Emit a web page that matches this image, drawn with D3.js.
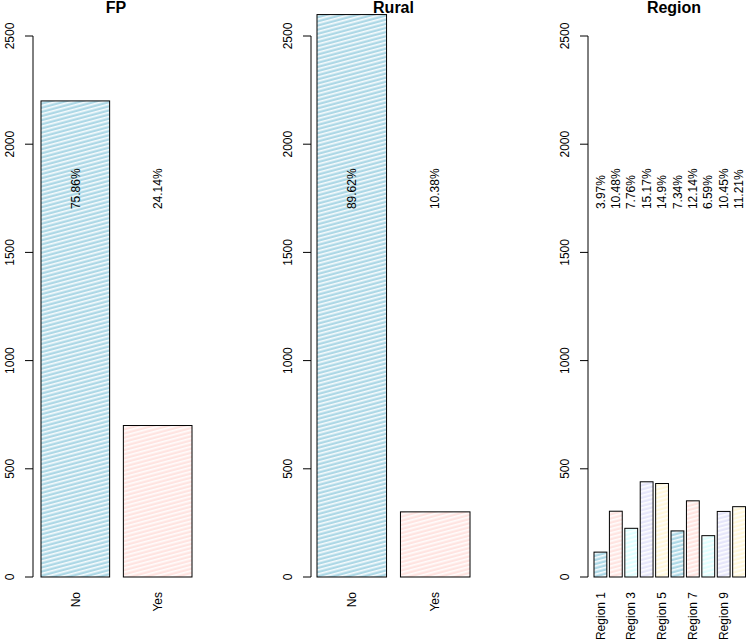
<!DOCTYPE html>
<html><head><meta charset="utf-8">
<script src="https://cdn.jsdelivr.net/npm/d3@7"></script>
<style>body{margin:0;background:#fff} svg{display:block} text{font-family:"Liberation Sans",Arial,sans-serif;fill:#000}</style>
</head><body><svg id="c" width="750" height="644"></svg>
<script>
const panelTitles = ["FP", "Rural", "Region"];
const fpCategories = ["No", "Yes"];
const fpCounts = [2200, 700];
const fpPercents = ["75.86%", "24.14%"];
const ruralCategories = ["No", "Yes"];
const ruralCounts = [2599, 301];
const ruralPercents = ["89.62%", "10.38%"];
const regionCategories = ["Region 1","Region 2","Region 3","Region 4","Region 5","Region 6","Region 7","Region 8","Region 9","Region 10"];
const regionCounts = [115, 304, 225, 440, 432, 213, 352, 191, 303, 325];
const regionPercents = ["3.97%","10.48%","7.76%","15.17%","14.9%","7.34%","12.14%","6.59%","10.45%","11.21%"];
const regionTickLabels = ["Region 1","Region 3","Region 5","Region 7","Region 9"];
const yTicks = [0, 500, 1000, 1500, 2000, 2500];
const barColors = ["lightblue", "mistyrose", "lightcyan", "lavender", "cornsilk"];
const percentLabelAt = 1700;

const svg = d3.select("#c");
const defs = svg.append("defs");
barColors.forEach((c, i) => {
  const p = defs.append("pattern").attr("id", "pat" + i)
    .attr("patternUnits", "userSpaceOnUse").attr("width", 12).attr("height", 4)
    .attr("patternTransform", "rotate(-15)");
  p.append("rect").attr("width", 12).attr("height", 4).attr("fill", c);
  p.append("line").attr("x1", 0).attr("x2", 12).attr("y1", 0.8).attr("y2", 0.8)
    .attr("stroke", "#fff").attr("stroke-width", 1.6).attr("stroke-opacity", 0.9);
});

const y = d3.scaleLinear().domain([0, 2500]).range([577, 36]);

const panels = [
  {title: panelTitles[0], cats: fpCategories, vals: fpCounts, pcts: fpPercents, ticks: fpCategories, axisX: 33, range: [41, 192], titleX: 116},
  {title: panelTitles[1], cats: ruralCategories, vals: ruralCounts, pcts: ruralPercents, ticks: ruralCategories, axisX: 311, range: [317, 470], titleX: 393.5},
  {title: panelTitles[2], cats: regionCategories, vals: regionCounts, pcts: regionPercents, ticks: regionTickLabels, axisX: 588, range: [594, 745.5], titleX: 674}
];

panels.forEach(pn => {
  const n = pn.cats.length;
  const x = d3.scaleLinear().domain([0.2, n * 1.2]).range(pn.range);
  const g = svg.append("g");
  const left = i => 0.2 + i * 1.2;

  g.selectAll("rect.bar").data(pn.vals).join("rect")
    .attr("class", "bar")
    .attr("x", (d, i) => x(left(i)))
    .attr("width", (d, i) => x(left(i) + 1) - x(left(i)))
    .attr("y", d => y(d))
    .attr("height", d => y(0) - y(d))
    .attr("fill", (d, i) => `url(#pat${i % barColors.length})`)
    .attr("stroke", "#000").attr("stroke-width", 1);

  g.selectAll("text.pct").data(pn.pcts).join("text")
    .attr("class", "pct")
    .attr("transform", (d, i) => `translate(${x(left(i) + 0.5)},${y(percentLabelAt)}) rotate(-90)`)
    .attr("dy", "0.35em").attr("text-anchor", "start").attr("font-size", 12)
    .text(d => d);

  g.selectAll("text.cat").data(pn.ticks).join("text")
    .attr("class", "cat")
    .attr("transform", d => {
      const i = pn.cats.indexOf(d);
      return `translate(${x(left(i) + 0.5)},592) rotate(-90)`;
    })
    .attr("dy", "0.35em").attr("text-anchor", "end").attr("font-size", 12)
    .text(d => d);

  const ax = g.append("g").attr("transform", `translate(${pn.axisX},0)`);
  ax.append("line").attr("x1", 0).attr("x2", 0).attr("y1", y(0)).attr("y2", y(2500))
    .attr("stroke", "#000");
  ax.selectAll("line.tk").data(yTicks).join("line").attr("class", "tk")
    .attr("x1", -8).attr("x2", 0).attr("y1", d => y(d)).attr("y2", d => y(d))
    .attr("stroke", "#000");
  ax.selectAll("text.tl").data(yTicks).join("text").attr("class", "tl")
    .attr("transform", d => `translate(-19,${y(d)}) rotate(-90)`)
    .attr("text-anchor", "middle").attr("font-size", 12)
    .text(d => d);

  g.append("text").attr("x", pn.titleX).attr("y", 13)
    .attr("text-anchor", "middle").attr("font-size", 16).attr("font-weight", "bold")
    .text(pn.title);
});
</script></body></html>
